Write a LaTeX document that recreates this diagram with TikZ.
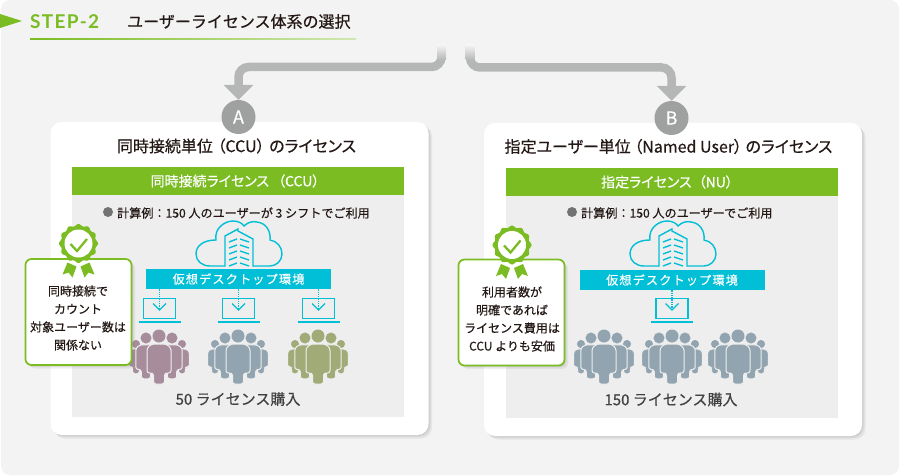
\documentclass[tikz,border=0pt]{standalone}
\usepackage{fontspec}
\setmainfont[FakeBold=0.4]{Noto Sans CJK JP}
\newfontfamily\proptext[FakeBold=0.4,RawFeature=+palt]{Noto Sans CJK JP}
\newfontfamily\wideband[FakeBold=0.4,LetterSpace=9]{Noto Sans CJK JP}
\newfontfamily\stepfont[LetterSpace=7]{Lato}
\usetikzlibrary{arrows.meta, shadows}

\definecolor{bgrey}{HTML}{F3F3F3}
\definecolor{panelgrey}{HTML}{EEEEEE}
\definecolor{flowgrey}{HTML}{B5B6B6}
\definecolor{dotgrey}{HTML}{9FA0A0}
\definecolor{licgreen}{HTML}{7ABC21}
\definecolor{deskcyan}{HTML}{00BFD6}
\definecolor{inktext}{HTML}{231815}
\definecolor{crowdpurple}{HTML}{A78C9C}
\definecolor{crowdblue}{HTML}{91A4B0}
\definecolor{crowdolive}{HTML}{A0AB78}

\begin{document}
\begin{tikzpicture}[x=1pt,y=-1pt,inner sep=0pt,text=inktext]
    \tikzstyle{flow}=[draw=flowgrey,line width=8.5pt,rounded corners=10pt,-{Triangle[width=29pt,length=15pt]}]
    \tikzstyle{soft shadow}=[drop shadow={shadow xshift=1pt,shadow yshift=-1pt,opacity=.12},drop shadow={shadow xshift=2pt,shadow yshift=-2pt,opacity=.12},drop shadow={shadow xshift=3.5pt,shadow yshift=-3.5pt,opacity=.12}]
    \tikzstyle{card}=[rectangle,rounded corners=11pt,fill=white,minimum width=378pt,minimum height=313pt,soft shadow]
    \tikzstyle{letter}=[circle,fill=dotgrey,minimum size=34pt,text=white,font=\fontsize{18}{20}\selectfont]
    \tikzstyle{card title}=[font=\fontsize{16}{18}\proptext]
    \tikzstyle{panel}=[rectangle,fill=panelgrey,minimum width=332pt,minimum height=222pt]
    \tikzstyle{green bar}=[rectangle,fill=licgreen,minimum width=332pt,minimum height=28pt,text=white,font=\fontsize{14}{16}\proptext]
    \tikzstyle{bullet}=[circle,fill=black!55,minimum size=10pt]
    \tikzstyle{example text}=[anchor=west,font=\fontsize{12.1}{14}\selectfont]
    \tikzstyle{desk band}=[rectangle,fill=deskcyan,minimum width=185pt,minimum height=20pt,text=white,font=\fontsize{12.2}{14}\wideband]
    \tikzstyle{screen}=[rectangle,draw=deskcyan,line width=1.4pt,minimum width=32pt,minimum height=20pt]
    \tikzstyle{note}=[rectangle,rounded corners=6pt,draw=licgreen,line width=1.7pt,fill=white,minimum width=106pt,minimum height=106pt,soft shadow]
    \tikzstyle{note text}=[align=center,font=\fontsize{12}{18}\selectfont]
    \tikzstyle{buy text}=[font=\fontsize{15}{18}\selectfont,text=black!75]

    % Background sheet
    \fill[bgrey,rounded corners=9pt] (1,0) rectangle (899,475);
    \useasboundingbox (0,0) rectangle (900,476);

    % Heading
    \fill[licgreen] (0,14) -- (22,21) -- (0,28) -- cycle;
    \node[anchor=west,text=licgreen,font=\fontsize{19}{22}\stepfont\bfseries] (step) at (30,22) {STEP-2};
    \node[anchor=west,font=\fontsize{16}{18}\selectfont] (heading) at (127,21.5) {ユーザーライセンス体系の選択};
    \shade[left color=licgreen,right color=licgreen!35] (30,38.5) rectangle (356,39.5);

    % Draw the two cards with their panels
    \foreach \name/\x/\y in {A/239.5/278.5, B/673/279.5} {
        \node[card] (card-\name) at (\x,\y) {};
        \node[panel] (panel-\name) at (\x-1.5,\y+27) {};
    }
    \node[letter] (A) at (238.5,117) {A};
    \node[letter] (B) at (671.5,118) {B};

    % Connect the heading to the cards
    \coordinate (startA) at (441.5,46);
    \coordinate (startB) at (470,46);
    \draw[flow] (startA) -- ++(0,21) -| (A.north);
    \draw[flow] (startB) -- ++(0,21.5) -| (B.north);
    \foreach \x in {441.5,470}
        \shade[top color=bgrey,bottom color=flowgrey] (\x-4.5,45) rectangle (\x+4.5,60);

    % Texts of the cards
    \node[card title] (title-A) at (236.5,146) {同時接続単位\hspace{4.5pt}（CCU）\hspace{4.5pt}のライセンス};
    \node[card title] (title-B) at (668.5,146.5) {指定ユーザー単位\hspace{3.5pt}（Named User）\hspace{3.5pt}のライセンス};
    \node[green bar] (bar-A) at (238,181) {同時接続ライセンス\hspace{9pt}（CCU）\hspace{6pt}\null};
    \node[green bar] (bar-B) at (671.5,182) {指定ライセンス\hspace{7pt}（NU）\hspace{9pt}\null};
    \node[bullet] (dot-A) at (108,212) {};
    \node[bullet] (dot-B) at (572,212) {};
    \node[example text] (calc-A) at (117,213) {計算例：150 人のユーザーが 3 シフトでご利用};
    \node[example text] (calc-B) at (581,213) {計算例：150 人のユーザーでご利用};
    \node[buy text] (buy-A) at (238,399) {50 ライセンス購入};
    \node[buy text] (buy-B) at (671,399.5) {150 ライセンス購入};

    % Draw the clouds with the building inside
    \foreach \x in {239,673} {
        \begin{scope}[shift={(\x,220)},draw=deskcyan,line width=1.4pt]
            \draw (-14,46) -- (-29,46) .. controls (-37,46) and (-43,41) .. (-43,34)
                .. controls (-43,26) and (-36,20) .. (-23,20)
                .. controls (-25,8) and (-14,1) .. (-6,1)
                .. controls (-1,1) and (3,3) .. (5,6)
                .. controls (9,2) and (14,1) .. (18,2)
                .. controls (27,3) and (32,11) .. (31,20)
                .. controls (38,21) and (43,27) .. (43,34)
                .. controls (43,41) and (37,46) .. (31,46) -- (14,46);
            \draw[fill=panelgrey] (-14,46.7) -- (-14,16) -- (-1,9) -- (-1,11) -- (14,19) -- (14,46.7);
            \foreach \y in {21,27,33,39,45} {
                \draw (-10,\y+1) -- (-2,\y-2);
                \draw (1,\y-2) -- (10,\y+1);
            }
        \end{scope}
    }

    % Draw the desktop bands
    \node[desk band] (desk-A) at (238.5,279) {仮想デスクトップ環境};
    \node[desk band] (desk-B) at (672,280) {仮想デスクトップ環境};

    % Draw the laptops and connect them to the bands
    \foreach \name/\x/\desk in {1/159.5/A, 2/238.5/A, 3/318.5/A, 4/672/B} {
        \node[screen] (pc-\name) at (\x,308.5) {};
        \draw[deskcyan,line width=2.4pt] (\x-21,322) -- (\x+21,322);
        \draw[deskcyan,line width=1.3pt,densely dotted] (pc-\name |- desk-\desk.south) -- (pc-\name.center);
        \draw[deskcyan,line width=1.4pt] (\x-6.5,303.5) -- (\x,310) -- (\x+6.5,303.5);
    }

    % Draw the crowds, outer people first
    \foreach \x/\crowd in {159/crowdpurple, 238/crowdblue, 318/crowdolive, 604/crowdblue, 672/crowdblue, 738/crowdblue}
        \foreach \dx/\dy/\s in {-23/8/.62, 23/8/.62, -13/2/.85, 13/2/.85, 0/0/1} {
            \begin{scope}[shift={(\x+\dx,336+\dy)},scale=\s]
                \path[fill=\crowd,draw=panelgrey,line width=1pt,rounded corners=2.5pt]
                    (-7,8) -- (7,8) -- (12,12) -- (12,37) -- (5.5,37) -- (5.5,48) -- (-5.5,48) -- (-5.5,37) -- (-12,37) -- (-12,12) -- cycle;
                \fill[\crowd] (0,0) circle[radius=6.5];
            \end{scope}
        }

    % Draw the notes
    \node[note] (note-A) at (78.5,312) {};
    \node[note] (note-B) at (511.5,312.5) {};
    \node[note text] (text-A) at (78,318) {同時接続で\\カウント\\対象ユーザー数は\\関係ない};
    \node[note text] (text-B) at (512,319) {利用者数が\\明確であれば\\ライセンス費用は\\CCU よりも安価};

    % Draw the rosettes on top of the notes
    \foreach \x/\y in {78.5/243.5, 512/245} {
        \begin{scope}[shift={(\x,\y)}]
            \fill[licgreen] (-11,19) -- (-16,31) -- (-10,29) -- (-6,34) -- (-2,23) -- cycle;
            \fill[licgreen] (11,19) -- (16,31) -- (10,29) -- (6,34) -- (2,23) -- cycle;
            \fill[licgreen] plot[variable=\t,domain=0:360,samples=121] ({(18.5+1*cos(12*\t))*cos(\t)},{(18.5+1*cos(12*\t))*sin(\t)}) -- cycle;
            \fill[white] (0,0) circle[radius=14];
            \draw[licgreen,line width=2.3pt] (-8,0.5) -- (-1.5,7.5) -- (8.5,-4.5);
        \end{scope}
    }
\end{tikzpicture}
\end{document}
